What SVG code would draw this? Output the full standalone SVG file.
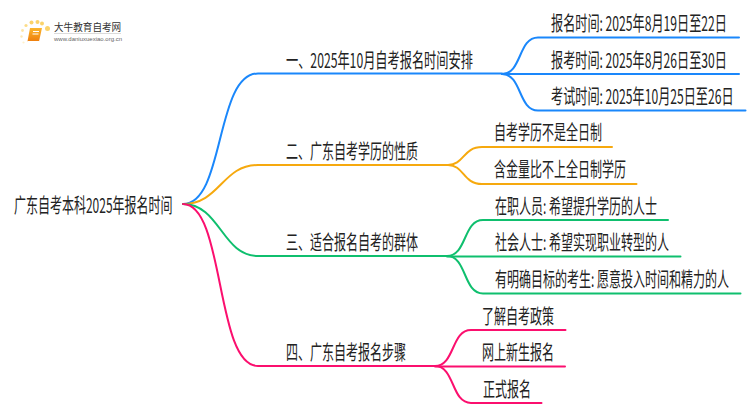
<svg xmlns="http://www.w3.org/2000/svg" width="750" height="410" viewBox="0 0 750 410">
<defs>
<linearGradient id="bk" x1="0" y1="0" x2="0" y2="1"><stop offset="0" stop-color="#fbb62c"/><stop offset="1" stop-color="#ee7d0c"/></linearGradient>
</defs>
<style>
text{font-family:"Noto Sans CJK SC","Noto Sans",sans-serif;fill:#222}
.t{font-size:20px}
.c{fill:none;stroke-width:2;stroke-linecap:round}
.b{stroke:#1a87fb}.o{stroke:#f6a90e}.g{stroke:#0fbf6e}.p{stroke:#fb0f6e}
.d{fill:#fbd36a}
</style>
<rect width="750" height="410" fill="#fff"/>
<g id="logo">
<circle class="d" cx="47.500" cy="28.500" r="2.500"/><circle class="d" cx="42" cy="23.500" r="2"/><circle class="d" cx="37.500" cy="22" r="2"/><circle class="d" cx="31.500" cy="22.500" r="2"/><circle class="d" cx="26" cy="25.500" r="1.600" opacity=".8"/><circle class="d" cx="22.500" cy="30.500" r="1.400" opacity=".6"/><circle class="d" cx="21.500" cy="36.500" r="1.200" opacity=".5"/><circle class="d" cx="23.500" cy="42.500" r="1.100" opacity=".35"/>
<path d="M30 28h12l-3 13.500H27.500z" fill="url(#bk)"/>
<path d="M27.500 41.500h11.500M33 31.500h6M32.500 34h6" stroke="#fff" stroke-width="1" fill="none"/>
<text transform="translate(54 31) scale(.96 1)" font-size="10" style="fill:#333">大牛教育自考网</text>
<path d="M54 33.500H121" stroke="#ccc" stroke-width=".7"/>
<text x="54" y="41" font-size="6" style="fill:#666;font-family:'Liberation Sans',sans-serif">www.daniuxuexiao.org.cn</text>
</g>
<g id="connectors">
<path class="c b" d="M183 204C225 204 215 73.500 258 73.500H502"/>
<path class="c o" d="M183 204C220 204 222 165 258 165H448"/>
<path class="c g" d="M183 204C220 204 222 256 258 256H447"/>
<path class="c p" d="M183 204C225 204 215 366 258 366H435"/>
<path class="c b" d="M502 74C522 74 518 37.500 538 37.500H739"/>
<path class="c b" d="M502 74H739"/>
<path class="c b" d="M502 74C522 74 518 110.500 538 110.500H745.500"/>
<path class="c o" d="M448 165C464 165 463 147 482 147H612"/>
<path class="c o" d="M448 165C464 165 463 184 482 184H636.500"/>
<path class="c g" d="M447 256C467 256 463 220 483 220H668"/>
<path class="c g" d="M447 256.500H680.500"/>
<path class="c g" d="M447 256C467 256 463 293.500 483 293.500H740.500"/>
<path class="c p" d="M435 366C455 366 451 330 471 330H565.500"/>
<path class="c p" d="M435 366.500H565"/>
<path class="c p" d="M435 366C455 366 451 403 471 403H541.500"/>
</g>
<g id="root"><text class="t" transform="translate(14 213) scale(.6 1)">广东自考本科2025年报名时间</text></g>
<g id="n1"><text class="t" transform="translate(286 67.500) scale(.61 1)">一、2025年10月自考报名时间安排</text></g>
<g id="n2"><text class="t" transform="translate(286 158.500) scale(.6 1)">二、广东自考学历的性质</text></g>
<g id="n3"><text class="t" transform="translate(286 250) scale(.6 1)">三、适合报名自考的群体</text></g>
<g id="n4"><text class="t" transform="translate(286 360) scale(.6 1)">四、广东自考报名步骤</text></g>
<g id="n1a"><text class="t" transform="translate(551 30.500) scale(.607 1)">报名时间: 2025年8月19日至22日</text></g>
<g id="n1b"><text class="t" transform="translate(551 67.500) scale(.607 1)">报考时间: 2025年8月26日至30日</text></g>
<g id="n1c"><text class="t" transform="translate(551 104) scale(.607 1)">考试时间: 2025年10月25日至26日</text></g>
<g id="n2a"><text class="t" transform="translate(494 140) scale(.6 1)">自考学历不是全日制</text></g>
<g id="n2b"><text class="t" transform="translate(494 177) scale(.6 1)">含金量比不上全日制学历</text></g>
<g id="n3a"><text class="t" transform="translate(495 213.500) scale(.6 1)">在职人员: 希望提升学历的人士</text></g>
<g id="n3b"><text class="t" transform="translate(495 250) scale(.6 1)">社会人士: 希望实现职业转型的人</text></g>
<g id="n3c"><text class="t" transform="translate(495 286.500) scale(.6 1)">有明确目标的考生: 愿意投入时间和精力的人</text></g>
<g id="n4a"><text class="t" transform="translate(482 323.500) scale(.6 1)">了解自考政策</text></g>
<g id="n4b"><text class="t" transform="translate(482 360) scale(.6 1)">网上新生报名</text></g>
<g id="n4c"><text class="t" transform="translate(483 396.500) scale(.6 1)">正式报名</text></g>
</svg>
